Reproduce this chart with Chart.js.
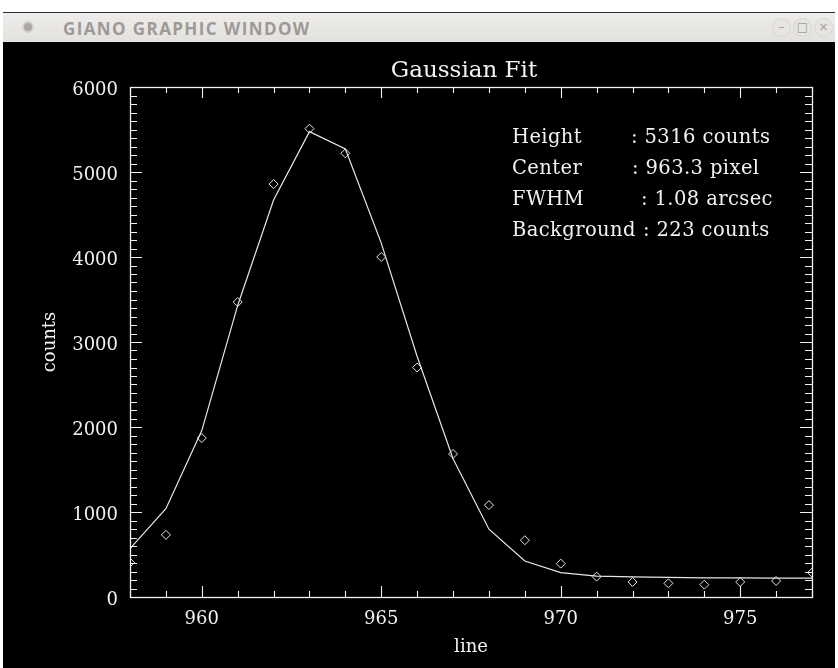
<!DOCTYPE html>
<html>
<head>
<meta charset="utf-8">
<script src="https://cdn.jsdelivr.net/npm/chart.js@4.4.1/dist/chart.umd.min.js"></script>
<style>
html,body{margin:0;padding:0;background:#ffffff;width:838px;height:668px;overflow:hidden;}
#frame{position:absolute;left:3px;top:12px;width:832px;height:656px;background:#000;border-top:1px solid #2e2e2e;}
#bar{position:absolute;left:0;top:0;width:832px;height:29px;background:linear-gradient(#efedeb,#e3e1de);}
#bar .icon{position:absolute;left:21px;top:10px;width:8px;height:8px;border-radius:50%;background:#a9a7a3;box-shadow:0 0 0 2px #d4d2ce;}
#bar .ttl{position:absolute;left:60px;top:4px;font:bold 17px "Open Sans","Noto Sans",sans-serif;color:#9d9a96;letter-spacing:1.4px;white-space:nowrap;}
#bar .btns{position:absolute;right:2px;top:5px;display:flex;gap:2px;}
#bar .btns span{width:17px;height:17px;border-radius:50%;background:#e7e5e2;border:1px solid #d8d6d2;font:12px "DejaVu Sans",sans-serif;color:#a09d99;text-align:center;line-height:17px;}
#plot{position:absolute;left:0;top:29px;width:832px;height:627px;}
</style>
</head>
<body>
<div id="frame">
  <div id="bar"><div class="icon"></div><div class="ttl">GIANO GRAPHIC WINDOW</div>
    <div class="btns"><span>–</span><span>□</span><span>×</span></div></div>
  <div id="plot"><canvas id="c" width="832" height="627"></canvas></div>
</div>
<script>
// ---- data ----
const linePixels     = [958, 959, 960, 961, 962, 963, 964, 965, 966, 967, 968, 969, 970, 971, 972, 973, 974, 975, 976, 977];
const measuredCounts = [405, 731, 1870, 3470, 4858, 5510, 5220, 4000, 2700, 1683, 1081, 668, 393, 240, 177, 161, 145, 177, 189, 287];
const fitCounts      = [570, 1038, 1958, 3430, 4670, 5475, 5271, 4163, 2830, 1627, 798, 424, 287, 245, 236, 230, 226, 224, 223, 223];
const xTickLabels    = [960, 965, 970, 975];
const yTickLabels    = [0, 1000, 2000, 3000, 4000, 5000, 6000];
const chartTitle     = 'Gaussian Fit';
const xAxisTitle     = 'line';
const yAxisTitle     = 'counts';
const infoLabels     = ['Height', 'Center', 'FWHM', 'Background'];
const infoValues     = [': 5316 counts', ': 963.3 pixel', ': 1.08 arcsec', ': 223 counts'];

// ---- styling ----
const FG = '#f2f2f2';
const SERIF = '"DejaVu Serif", "Liberation Serif", serif';

const idlFrame = {
  id: 'idlFrame',
  afterDatasetsDraw(chart) {
    const {ctx, chartArea: a, scales: {x, y}} = chart;
    ctx.save();
    ctx.strokeStyle = FG;
    ctx.lineWidth = 1.3;
    ctx.strokeRect(Math.round(a.left) + 0.5, Math.round(a.top) + 0.5,
                   Math.round(a.right - a.left), Math.round(a.bottom - a.top));
    ctx.lineWidth = 1.1;
    ctx.beginPath();
    for (let v = Math.ceil(x.min); v <= x.max; v++) {
      const px = Math.round(x.getPixelForValue(v)) + 0.5;
      const len = xTickLabels.includes(v) ? 11 : 6;
      ctx.moveTo(px, a.bottom); ctx.lineTo(px, a.bottom - len);
      ctx.moveTo(px, a.top); ctx.lineTo(px, a.top + len);
    }
    for (let k = 0; k * 100 <= y.max; k++) {
      const v = k * 100;
      const py = Math.round(y.getPixelForValue(v)) + 0.5;
      const len = yTickLabels.includes(v) ? 12 : 7;
      ctx.moveTo(a.left, py); ctx.lineTo(a.left + len, py);
      ctx.moveTo(a.right, py); ctx.lineTo(a.right - len, py);
    }
    ctx.stroke();

    ctx.fillStyle = FG;
    ctx.font = '23px ' + SERIF;
    ctx.textAlign = 'center';
    ctx.textBaseline = 'alphabetic';
    ctx.fillText(chartTitle, 461, 35);

    ctx.font = '19.5px ' + SERIF;
    ctx.textAlign = 'left';
    if ('letterSpacing' in ctx) ctx.letterSpacing = '0.4px';
    const valueX = [628, 629, 638, 640];
    infoLabels.forEach((lab, i) => {
      const by = 101 + i * 31;
      ctx.fillText(lab, 509, by);
      ctx.fillText(infoValues[i], valueX[i], by);
    });
    ctx.restore();
  }
};

new Chart(document.getElementById('c'), {
  type: 'line',
  data: {
    datasets: [
      {
        label: 'Gaussian fit',
        data: linePixels.map((p, i) => ({x: p, y: fitCounts[i]})),
        borderColor: '#e6e6e6',
        borderWidth: 1.2,
        pointRadius: 0,
        tension: 0,
        fill: false
      },
      {
        label: 'counts',
        data: linePixels.map((p, i) => ({x: p, y: measuredCounts[i]})),
        showLine: false,
        pointStyle: 'rectRot',
        pointRadius: 4.5,
        pointBorderWidth: 1,
        borderColor: '#e6e6e6',
        backgroundColor: 'rgba(0,0,0,0)',
        pointBackgroundColor: 'rgba(0,0,0,0)'
      }
    ]
  },
  options: {
    responsive: false,
    animation: false,
    events: [],
    layout: {padding: {top: 45, right: 23, bottom: 0, left: 0}},
    plugins: {legend: {display: false}, tooltip: {enabled: false}, title: {display: false}},
    scales: {
      x: {
        type: 'linear',
        min: 958, max: 977,
        afterBuildTicks: s => { s.ticks = xTickLabels.map(v => ({value: v})); },
        afterFit: s => { s.height = 72; },
        grid: {display: false},
        border: {display: false},
        ticks: {color: FG, font: {family: SERIF, size: 18}, padding: 4, maxRotation: 0, autoSkip: false,
                callback: v => String(v)},
        title: {display: true, text: xAxisTitle, color: FG, font: {family: SERIF, size: 18}, padding: {top: 13, bottom: 11}}
      },
      y: {
        min: 0, max: 6000,
        afterBuildTicks: s => { s.ticks = yTickLabels.map(v => ({value: v})); },
        afterFit: s => { s.width = 127; },
        grid: {display: false},
        border: {display: false},
        ticks: {color: FG, font: {family: SERIF, size: 18}, padding: 4, autoSkip: false, labelOffset: 3,
                callback: v => String(v)},
        title: {display: true, text: yAxisTitle, color: FG, font: {family: SERIF, size: 18}, padding: {top: 37, bottom: 0}}
      }
    }
  },
  plugins: [idlFrame]
});
</script>
</body>
</html>
